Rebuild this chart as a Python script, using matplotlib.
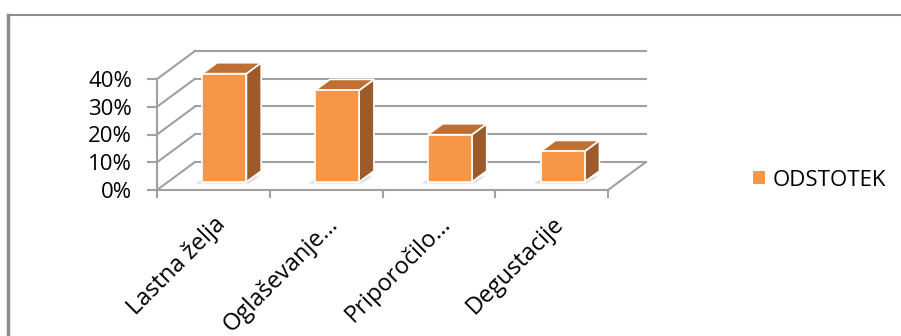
import matplotlib.pyplot as plt
from matplotlib.patches import Polygon, Patch
from matplotlib.lines import Line2D

plt.rcParams['font.family'] = ['Open Sans', 'DejaVu Sans']

# podatki
kategorije = ['Lastna želja', 'Oglaševanje…', 'Priporočilo…', 'Degustacije']
odstotki = [39, 33, 17, 11]
y_ticks = [0, 10, 20, 30, 40]

# barve (Excel oranžna)
c_front = '#F79646'
c_side = '#9C5B29'
c_top = '#BE7034'
c_grid = '#A0A0A0'

W, H = 901, 336
fig = plt.figure(figsize=(W / 100, H / 100), dpi=100)

# sprednja ravnina grafa
ax = fig.add_axes([157 / W, (H - 190) / H, 451 / W, 111 / H])
ax.set_xlim(0, len(kategorije))
ax.set_ylim(0, 40)

# zamik v globino (poševna projekcija)
DX = 38 / 112.75
DY = 28 / 2.775

for s in ['top', 'right']:
    ax.spines[s].set_visible(False)
for s in ['left', 'bottom']:
    ax.spines[s].set_color(c_grid)
    ax.spines[s].set_linewidth(1.5)

ax.set_yticks(y_ticks)
ax.set_yticklabels([f'{t}%' for t in y_ticks], fontsize=16)
ax.tick_params(axis='y', length=7, width=1.5, color=c_grid, pad=11)

ax.set_xticks(range(len(kategorije) + 1))
ax.set_xticklabels([])
ax.tick_params(axis='x', which='major', length=6, width=1.5, color=c_grid)
ax.set_xticks([i + 0.5 for i in range(len(kategorije))], minor=True)
ax.set_xticklabels(kategorije, minor=True, rotation=45, ha='right',
                   rotation_mode='anchor', fontsize=17)
ax.tick_params(axis='x', which='minor', length=0, pad=16)

n = len(kategorije)
# mreža: diagonale ob levi strani in vodoravne črte zadnje stene
for t in y_ticks:
    ax.add_line(Line2D([0, DX], [t, t + DY], color=c_grid, lw=1.5, clip_on=False))
    ax.add_line(Line2D([DX, n + DX], [t + DY, t + DY], color=c_grid, lw=1.5,
                       clip_on=False))
# desni rob tal
ax.add_line(Line2D([n, n + DX], [0, DY], color=c_grid, lw=1.5, clip_on=False))

# 3D stolpci
z0 = 0.29
bd = 0.39
bw = 0.39
for i, v in enumerate(odstotki):
    xl = i + 0.5 - bw / 2 + z0 * DX
    xr = xl + bw
    yb = z0 * DY
    yt = yb + v
    ox, oy = bd * DX, bd * DY
    # senca na tleh
    shadow = Polygon([(xl - 0.06, yb - 0.6), (xr + 0.02, yb - 0.6),
                      (xr + ox * 0.9, yb + oy * 0.5), (xl + ox * 0.3, yb + oy * 0.5)],
                     closed=True, fc='#d0d0d0', ec='none', alpha=0.7,
                     clip_on=False, zorder=3)
    ax.add_patch(shadow)
    side = Polygon([(xr, yb), (xr, yt), (xr + ox, yt + oy), (xr + ox, yb + oy)],
                   closed=True, fc=c_side, ec='white', lw=1.2, clip_on=False,
                   zorder=4)
    top = Polygon([(xl, yt), (xr, yt), (xr + ox, yt + oy), (xl + ox, yt + oy)],
                  closed=True, fc=c_top, ec='white', lw=1.2, clip_on=False,
                  zorder=4)
    front = Polygon([(xl, yb), (xr, yb), (xr, yt), (xl, yt)], closed=True,
                    fc=c_front, ec='white', lw=1.2, clip_on=False, zorder=5)
    ax.add_patch(side)
    ax.add_patch(top)
    ax.add_patch(front)

# legenda
fig.legend(handles=[Patch(fc=c_front, ec='none', label='ODSTOTEK')],
           loc='center left', bbox_to_anchor=(733 / W, 1 - 180 / H),
           frameon=False, fontsize=16, handlelength=0.55, handleheight=0.55,
           handletextpad=0.35)

# okvir grafa
fig.add_artist(Line2D([8 / W, 8 / W], [0, 1 - 15 / H], color='#8c8c8c', lw=2.5,
                      transform=fig.transFigure))
fig.add_artist(Line2D([8 / W, 1], [1 - 15 / H, 1 - 15 / H], color='#8c8c8c',
                      lw=1.5, transform=fig.transFigure))

fig.savefig('out.png', dpi=100)
